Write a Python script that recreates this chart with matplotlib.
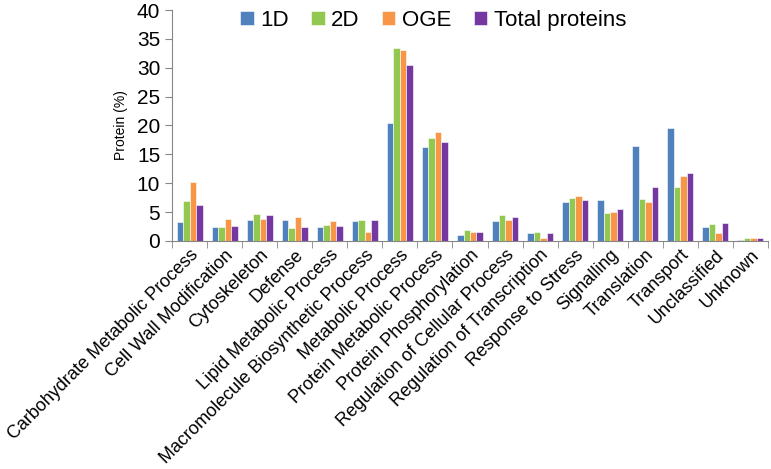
import numpy as np
import matplotlib
matplotlib.use('Agg')
import matplotlib.pyplot as plt

plt.rcParams['font.family'] = ['Liberation Sans', 'DejaVu Sans']

categories = ['Carbohydrate Metabolic Process', 'Cell Wall Modification', 'Cytoskeleton',
              'Defense', 'Lipid Metabolic Process', 'Macromolecule Biosynthetic Process',
              'Metabolic Process', 'Protein Metabolic Process', 'Protein Phosphorylation',
              'Regulation of Cellular Process', 'Regulation of Transcription',
              'Response to Stress', 'Signalling', 'Translation', 'Transport',
              'Unclassified', 'Unknown']

d1 = [3.3, 2.4, 3.55, 3.7, 2.4, 3.5, 20.4, 16.3, 1.1, 3.5, 1.3, 6.8, 7.1, 16.4, 19.55, 2.5, 0.25]
d2 = [7.0, 2.4, 4.7, 2.25, 2.8, 3.7, 33.4, 17.8, 1.95, 4.5, 1.55, 7.5, 4.8, 7.3, 9.4, 3.0, 0.5]
oge = [10.2, 3.85, 3.8, 4.1, 3.5, 1.55, 33.0, 18.8, 1.5, 3.7, 0.5, 7.8, 5.1, 6.8, 11.2, 1.3, 0.5]
total = [6.3, 2.6, 4.5, 2.5, 2.6, 3.7, 30.4, 17.2, 1.6, 4.2, 1.45, 7.1, 5.5, 9.4, 11.7, 3.1, 0.5]

series = [('1D', d1, '#4F81BD'), ('2D', d2, '#92C84F'),
          ('OGE', oge, '#F79646'), ('Total proteins', total, '#7438A0')]

fig = plt.figure(figsize=(7.71, 4.69), dpi=100)
ax = fig.add_axes([172 / 771, 1 - 241 / 469, 596 / 771, 231 / 469])

x = np.arange(len(categories))
w = 0.185
for i, (name, vals, col) in enumerate(series):
    ax.bar(x + (i - 1.5) * w, vals, w, color=col, label=name, edgecolor='white', linewidth=0.4)

ax.set_xlim(-0.5, len(categories) - 0.5)
ax.set_ylim(0, 40)
ax.set_yticks(range(0, 41, 5))
ax.tick_params(axis='y', labelsize=15, length=5, color='#868686')
ax.set_xticks(x)
ax.set_xticklabels(categories, rotation=45, ha='right', rotation_mode='anchor', fontsize=13)
ax.tick_params(axis='x', length=0, pad=4)
ax.set_xticks(np.arange(-0.5, len(categories)), minor=True)
ax.tick_params(axis='x', which='minor', length=5, color='#868686')

for s in ['top', 'right']:
    ax.spines[s].set_visible(False)
for s in ['left', 'bottom']:
    ax.spines[s].set_color('#868686')

ax.set_ylabel('Protein (%)', fontsize=10, labelpad=6)

ax.legend(loc='upper left', bbox_to_anchor=(0.1, 1.04), ncol=4, frameon=False,
          fontsize=16, handlelength=0.6, handleheight=0.6, handletextpad=0.3,
          columnspacing=1.0, borderaxespad=0)

fig.savefig('out.png', dpi=100)
